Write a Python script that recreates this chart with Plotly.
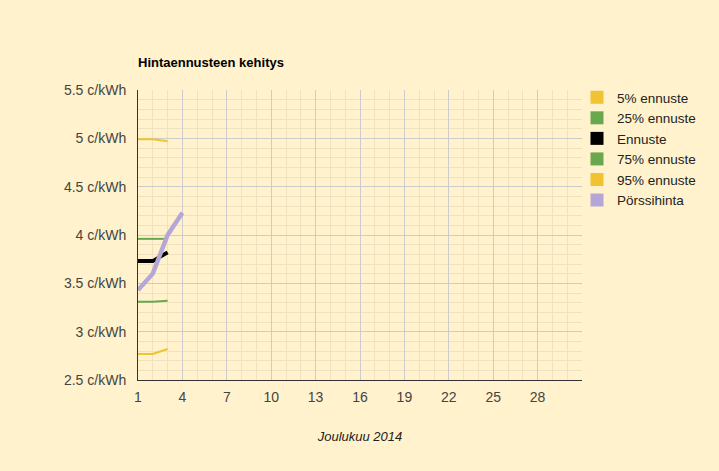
"""Hintaennusteen kehitys - Plotly recreation."""

import plotly.graph_objects as go

# päivät (joulukuu 2014)
days_forecast = [1, 2, 3]
days_price = [1, 2, 3, 4]

p5 = [2.77, 2.77, 2.82]
p25 = [3.31, 3.31, 3.32]
ennuste = [3.73, 3.73, 3.82]
p75 = [3.96, 3.96, 3.96]
p95 = [4.99, 4.99, 4.97]
porssihinta = [3.43, 3.60, 4.00, 4.23]

x_tickvals = [1, 4, 7, 10, 13, 16, 19, 22, 25, 28]
y_tickvals = [2.5, 3, 3.5, 4, 4.5, 5, 5.5]

YELLOW = "#f1c232"
GREEN = "#6aa84f"
BLACK = "#000000"
PURPLE = "#b4a7d6"
BG = "#fff2cc"
FONT = "Arial, Liberation Sans, sans-serif"

series = [
    ("5% ennuste", days_forecast, p5, YELLOW, 2),
    ("25% ennuste", days_forecast, p25, GREEN, 2),
    ("Ennuste", days_forecast, ennuste, BLACK, 4),
    ("75% ennuste", days_forecast, p75, GREEN, 2),
    ("95% ennuste", days_forecast, p95, YELLOW, 2),
    ("Pörssihinta", days_price, porssihinta, PURPLE, 4.5),
]

fig = go.Figure()

# the lines themselves
for name, xs, ys, color, width in series:
    fig.add_trace(
        go.Scatter(
            x=xs,
            y=ys,
            mode="lines",
            name=name,
            line=dict(color=color, width=width),
            showlegend=False,
            hoverinfo="x+y+name",
        )
    )

# square legend swatches like the original
for name, _, _, color, _ in series:
    fig.add_trace(
        go.Scatter(
            x=[None],
            y=[None],
            mode="markers",
            name=name,
            marker=dict(symbol="square", size=13, color=color),
            showlegend=True,
        )
    )

fig.update_layout(
    width=719,
    height=471,
    margin=dict(l=138, r=137, t=90, b=91, autoexpand=False),
    paper_bgcolor=BG,
    plot_bgcolor=BG,
    font=dict(family=FONT, size=14, color="#444444"),
    title=dict(
        text="<b>Hintaennusteen kehitys</b>",
        font=dict(family=FONT, size=13, color="#000000"),
        x=138 / 719,
        xref="container",
        xanchor="left",
        y=1 - 62 / 471,
        yref="container",
        yanchor="middle",
    ),
    legend=dict(
        x=577 / 719,
        xref="container",
        xanchor="left",
        y=1 - 82 / 471,
        yref="container",
        yanchor="top",
        bgcolor="rgba(0,0,0,0)",
        font=dict(family=FONT, size=13.5, color="#222222"),
        itemclick=False,
        tracegroupgap=0,
    ),
    showlegend=True,
)

fig.update_xaxes(
    range=[1, 31],
    tickmode="array",
    tickvals=x_tickvals,
    ticktext=[str(v) for v in x_tickvals],
    showgrid=True,
    gridcolor="#cccccc",
    gridwidth=1,
    minor=dict(dtick=1, tick0=1, showgrid=True, gridcolor="#efe2c0", gridwidth=1),
    showline=True,
    linecolor="#333333",
    linewidth=1,
    zeroline=False,
    ticks="",
    ticklabelstandoff=4,
    title=dict(
        text="<i>Joulukuu 2014</i>",
        font=dict(family=FONT, size=13, color="#222222"),
        standoff=28,
    ),
)

fig.update_yaxes(
    range=[2.5, 5.5],
    tickmode="array",
    tickvals=y_tickvals,
    ticktext=[f"{v:g} c/kWh" for v in y_tickvals],
    showgrid=True,
    gridcolor="#cccccc",
    gridwidth=1,
    minor=dict(dtick=0.1, tick0=2.5, showgrid=True, gridcolor="#efe2c0", gridwidth=1),
    showline=True,
    linecolor="#333333",
    linewidth=1,
    zeroline=False,
    ticks="",
    ticklabelstandoff=8,
)

# drop the browser's default page margin so the chart sits at (0, 0)
fig.write_html(
    "out.html",
    config={"displayModeBar": False},
    post_script="document.body.style.margin='0px';document.body.style.background='#fff2cc';",
)
